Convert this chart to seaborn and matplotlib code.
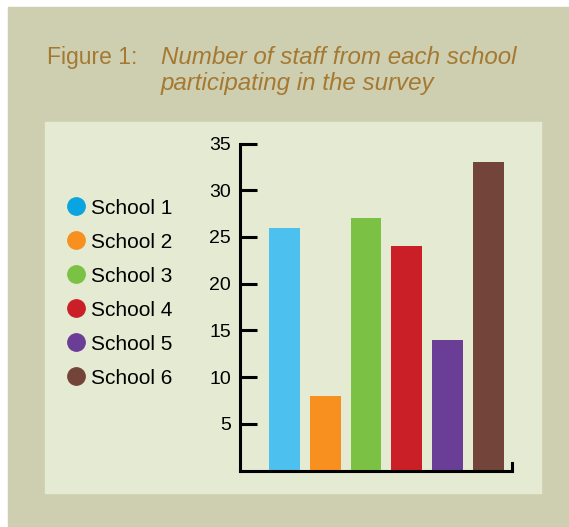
import matplotlib
matplotlib.use("Agg")
import matplotlib.pyplot as plt
import seaborn as sns
from matplotlib.lines import Line2D
from matplotlib.patches import Rectangle

# Data
schools = ["School 1", "School 2", "School 3", "School 4", "School 5", "School 6"]
staff = [26, 8, 27, 24, 14, 33]
bar_colors = ["#4cc0ee", "#f7901e", "#7bc143", "#cb1f28", "#6a3e97", "#73443a"]
dot_colors = ["#0aa5e0", "#f7901e", "#7bc143", "#cb1f28", "#6a3e97", "#73443a"]
y_ticks = [5, 10, 15, 20, 25, 30, 35]

sns.set_style("white")
plt.rcParams["font.family"] = ["Liberation Sans", "DejaVu Sans"]
plt.rcParams["text.color"] = "black"

W, H = 569, 527
fig = plt.figure(figsize=(W / 100, H / 100), dpi=100, facecolor="white")


def px_rect(x0, y0, x1, y1, color):
    # rectangle given in pixel coords from the top-left corner
    fig.patches.append(Rectangle((x0 / W, 1 - y1 / H), (x1 - x0) / W, (y1 - y0) / H,
                                 transform=fig.transFigure, color=color, zorder=-5))


px_rect(8, 7, 569, 527, "#cdcfb0")
px_rect(45, 122, 541, 493, "#e5ead3")

# Title
title_color = "#a57932"
fig.text(47 / W, 1 - 64 / H, "Figure 1:", color=title_color, fontsize=16.5, va="baseline")
fig.text(161 / W, 1 - 64 / H, "Number of staff from each school", color=title_color,
         fontsize=17.4, style="italic", va="baseline")
fig.text(161 / W, 1 - 90 / H, "participating in the survey", color=title_color,
         fontsize=17.4, style="italic", va="baseline")

# Chart
ax_left, ax_right = 239.5, 511.5
ax_top, ax_bottom = 143.5, 470.5
ax = fig.add_axes([ax_left / W, 1 - ax_bottom / H, (ax_right - ax_left) / W, (ax_bottom - ax_top) / H])
ax.set_facecolor("none")
ax.set_zorder(2)

sns.barplot(x=schools, y=staff, hue=schools, palette=bar_colors, legend=False,
            width=0.756, saturation=1, linewidth=0, ax=ax)

ax.set_xlim(-1.1, 5.57)
ax.set_ylim(0, 35)
ax.set_yticks(y_ticks)
ax.set_xticks([])
ax.set_xlabel("")
ax.set_ylabel("")

lw = 2.2
for side in ["left", "bottom", "right"]:
    ax.spines[side].set_linewidth(lw)
    ax.spines[side].set_color("black")
    ax.spines[side].set_capstyle("projecting")
ax.spines["top"].set_visible(False)
ax.spines["right"].set_bounds(0, 0.75)

ax.tick_params(axis="y", direction="in", length=12.5, width=lw, labelsize=14,
               pad=6, colors="black", left=True)

# Legend
handles = [Line2D([], [], marker="o", linestyle="none", markersize=12.5,
                  markerfacecolor=c, markeredgecolor=c) for c in dot_colors]
leg = fig.legend(handles, schools, loc="center left", bbox_to_anchor=(66 / W, 1 - 293 / H),
                 frameon=False, fontsize=15, handlelength=1.0, handletextpad=0.2,
                 labelspacing=0.72, borderpad=0, borderaxespad=0, labelcolor="black")
leg.set_zorder(3)

plt.savefig("out.png", dpi=100, facecolor="white")
